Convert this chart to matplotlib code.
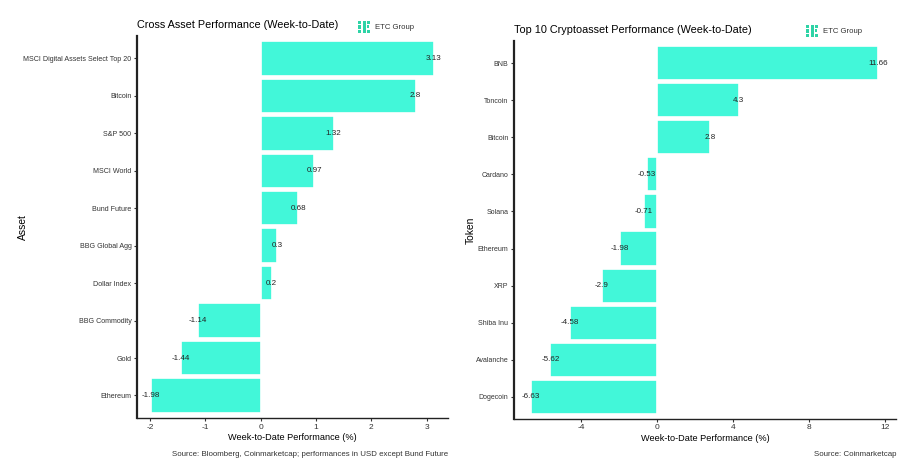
import matplotlib.pyplot as plt
from matplotlib.patches import Rectangle

plt.rcParams['font.family'] = ['Liberation Sans', 'DejaVu Sans']

assets = ['MSCI Digital Assets Select Top 20', 'Bitcoin', 'S&P 500', 'MSCI World',
          'Bund Future', 'BBG Global Agg', 'Dollar Index', 'BBG Commodity', 'Gold', 'Ethereum']
asset_perf = [3.13, 2.8, 1.32, 0.97, 0.68, 0.3, 0.2, -1.14, -1.44, -1.98]

tokens = ['BNB', 'Toncoin', 'Bitcoin', 'Cardano', 'Solana', 'Ethereum', 'XRP',
          'Shiba Inu', 'Avalanche', 'Dogecoin']
token_perf = [11.66, 4.3, 2.8, -0.53, -0.71, -1.98, -2.9, -4.58, -5.62, -6.63]

bar_col = '#42F7D9'
logo_col = '#2ED3A6'

fig = plt.figure(figsize=(9.16, 4.67), dpi=100)
ax1 = fig.add_axes([0.1496, 0.105, 0.3395, 0.818])
ax2 = fig.add_axes([0.561, 0.103, 0.417, 0.809])


def panel(ax, names, vals, xticks, title, ylab, ysize):
    n = len(names)
    ypos = list(range(n))[::-1]
    ax.barh(ypos, vals, height=0.92, color=bar_col, edgecolor='white', linewidth=1.2)
    for y, v in zip(ypos, vals):
        ax.text(v, y, '{:g}'.format(v), ha='center', va='center', fontsize=5.8, color='#222222')
    lo, hi = min(vals), max(vals)
    pad = (hi - lo) * 0.05
    ax.set_xlim(lo - pad, hi + pad)
    ax.set_ylim(-0.6, n - 0.4)
    ax.set_yticks(ypos)
    ax.set_yticklabels(names, fontsize=ysize, color='#333333')
    ax.set_xticks(xticks)
    ax.set_xticklabels([str(t) for t in xticks], fontsize=6, color='#333333')
    ax.tick_params(length=2.5, width=0.8, colors='#333333', pad=1.5)
    for s in ['top', 'right']:
        ax.spines[s].set_visible(False)
    ax.spines['left'].set_linewidth(1.6)
    ax.spines['bottom'].set_linewidth(1.0)
    ax.spines['left'].set_color('#222222')
    ax.spines['bottom'].set_color('#222222')
    ax.set_title(title, loc='left', fontsize=7.8, pad=6)
    ax.set_xlabel('Week-to-Date Performance (%)', fontsize=6.6, labelpad=2)
    ax.set_ylabel(ylab, fontsize=7.4)


panel(ax1, assets, asset_perf, [-2, -1, 0, 1, 2, 3],
      'Cross Asset Performance (Week-to-Date)', 'Asset', 5.1)
panel(ax2, tokens, token_perf, [-4, 0, 4, 8, 12],
      'Top 10 Cryptoasset Performance (Week-to-Date)', 'Token', 5.0)
ax1.yaxis.set_label_coords(-0.35, 0.5)
ax2.yaxis.set_label_coords(-0.1, 0.5)


def logo(x, y):
    # x, y in pixels from the top-left of the figure, blocks in pixels
    W, H = 916.0, 467.0
    blocks = [(0, 0, 3, 3), (0, 4.5, 3, 3), (0, 9, 3, 3),
              (4.5, 0, 3, 12), (9, 0, 3, 3), (9, 9, 3, 3), (9, 4.5, 2, 2)]
    for bx, by, bw, bh in blocks:
        fig.patches.append(Rectangle(((x + bx) / W, 1 - (y + by + bh) / H),
                                     bw / W, bh / H, color=logo_col, lw=0,
                                     transform=fig.transFigure, figure=fig))
    fig.text((x + 17) / W, 1 - (y + 6.2) / H, 'ETC Group', fontsize=5.6, va='center',
             color='#333333')


logo(358, 21)
logo(806, 25)

fig.text(448 / 916, 1 - 455 / 467, 'Source: Bloomberg, Coinmarketcap; performances in USD except Bund Future',
         ha='right', va='center', fontsize=5.7, color='#333333')
fig.text(896 / 916, 1 - 455 / 467, 'Source: Coinmarketcap',
         ha='right', va='center', fontsize=5.7, color='#333333')

fig.savefig('out.png', dpi=100)
